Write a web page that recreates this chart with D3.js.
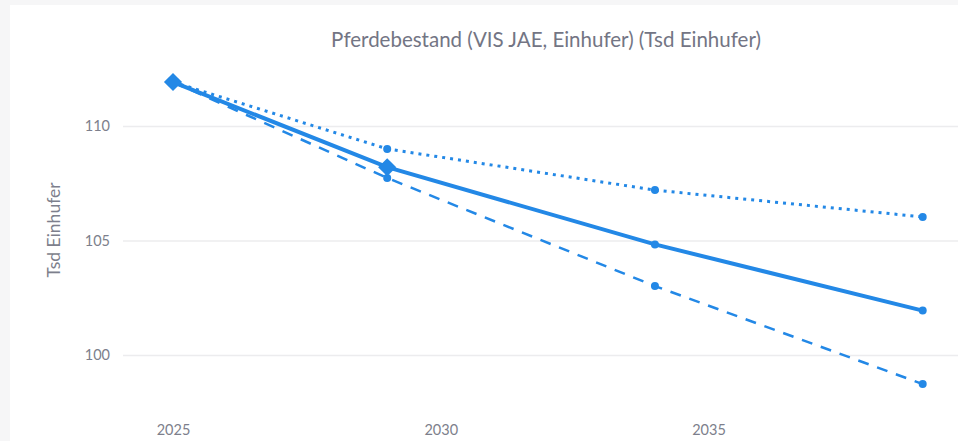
<!DOCTYPE html>
<html>
<head>
<meta charset="utf-8">
<script src="https://cdn.jsdelivr.net/npm/d3@7"></script>
<style>
  body { margin: 0; background: #f6f6f7; }
  svg { display: block; }
</style>
</head>
<body>
<script>
  // chart data
  const years = [2025, 2029, 2034, 2039];
  const solidValues = [111.92, 108.2, 104.83, 101.94];
  const dottedValues = [111.92, 109.0, 107.2, 106.03];
  const dashedValues = [111.92, 107.73, 103.01, 98.73];
  const historyYears = [2025, 2029];
  const historyValues = [111.92, 108.2];
  const xTicks = [2025, 2030, 2035];
  const yTicks = [100, 105, 110];

  const width = 958, height = 441;
  const blue = '#2388e6';

  const svg = d3.select('body').append('svg')
    .attr('width', width)
    .attr('height', height);

  // white card
  svg.append('rect')
    .attr('x', 10).attr('y', 5)
    .attr('width', width - 10).attr('height', height - 5)
    .attr('fill', '#fff');

  const xScale = d3.scaleLinear().domain([2024, 2040]).range([119.45, 976.25]);
  const yScale = d3.scaleLinear().domain([97, 113]).range([423.7, 57.3]);

  // y grid + labels
  const yAxis = d3.axisLeft(yScale)
    .tickValues(yTicks)
    .tickSize(-(width - 123))
    .tickPadding(13);
  const gy = svg.append('g')
    .attr('transform', 'translate(123,0)')
    .call(yAxis);
  gy.select('.domain').remove();
  gy.selectAll('line').attr('stroke', '#ececee').attr('stroke-width', 1.5);
  gy.selectAll('text')
    .attr('fill', '#7d7f8c')
    .style('font-family', 'Lato, sans-serif')
    .style('font-size', '14.5px');

  // x labels
  const xAxis = d3.axisBottom(xScale)
    .tickValues(xTicks)
    .tickFormat(d3.format('d'))
    .tickSize(0)
    .tickPadding(0);
  const gx = svg.append('g')
    .attr('transform', 'translate(0,425)')
    .call(xAxis);
  gx.select('.domain').remove();
  gx.selectAll('text')
    .attr('fill', '#7d7f8c')
    .style('font-family', 'Lato, sans-serif')
    .style('font-size', '14.5px');

  // title
  svg.append('text')
    .attr('x', 546)
    .attr('y', 47)
    .attr('text-anchor', 'middle')
    .style('font-family', 'Lato, sans-serif')
    .style('font-size', '20.5px')
    .style('fill', '#737584')
    .text('Pferdebestand (VIS JAE, Einhufer) (Tsd Einhufer)');

  // y title
  svg.append('text')
    .attr('transform', 'translate(60,230)rotate(-90)')
    .attr('text-anchor', 'middle')
    .style('font-family', 'Lato, sans-serif')
    .style('font-size', '17.5px')
    .style('fill', '#7d7f8c')
    .text('Tsd Einhufer');

  const line = d3.line()
    .x((d, i) => xScale(years[i]))
    .y(d => yScale(d));

  function drawSeries(values, strokeWidth, dash) {
    svg.append('path')
      .datum(values)
      .attr('d', line)
      .attr('fill', 'none')
      .attr('stroke', blue)
      .attr('stroke-width', strokeWidth)
      .attr('stroke-dasharray', dash);

    svg.append('g').selectAll('circle')
      .data(values.slice(1))
      .enter()
      .append('circle')
        .attr('cx', (d, i) => xScale(years[i + 1]))
        .attr('cy', d => yScale(d))
        .attr('r', 4)
        .attr('fill', blue);
  }

  drawSeries(dottedValues, 3, '3,5');
  drawSeries(dashedValues, 2.5, '11,9');
  drawSeries(solidValues, 4, null);

  // historic diamonds
  svg.append('g').selectAll('path')
    .data(historyValues)
    .enter()
    .append('path')
      .attr('d', d3.symbol().type(d3.symbolDiamond2).size(210))
      .attr('transform', (d, i) => 'translate(' + xScale(historyYears[i]) + ',' + yScale(d) + ')')
      .attr('fill', blue);
</script>
</body>
</html>
